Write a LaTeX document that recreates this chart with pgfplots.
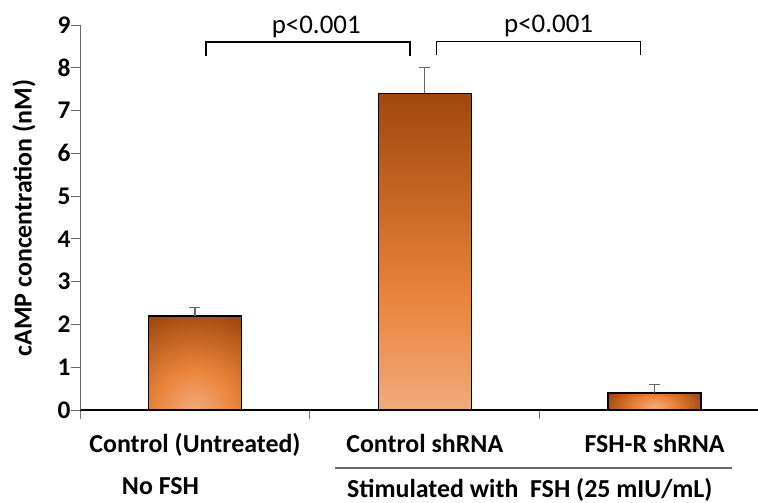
\documentclass[border=0pt]{standalone}
\usepackage{pgfplots}
\pgfplotsset{compat=1.18}
\usepackage{fontspec}
\setmainfont{Carlito}
\definecolor{cLight}{HTML}{F2AA7C}
\definecolor{cMid}{HTML}{EA833A}
\definecolor{cDark}{HTML}{A0480E}
% radial glow from bottom centre (path spans [-25bp,25bp]^2)
\pgfdeclarefunctionalshading{barglow}{\pgfpoint{-50bp}{-50bp}}{\pgfpoint{50bp}{50bp}}{}{
  25 add dup mul exch dup mul add sqrt 54 div
  dup 1 gt {pop 1} if
  dup 0.4 lt {
    0.4 div dup dup
    -0.031 mul 0.949 add 3 1 roll
    -0.153 mul 0.667 add exch
    -0.259 mul 0.486 add
  }{
    0.4 sub 0.6 div dup dup
    -0.291 mul 0.918 add 3 1 roll
    -0.232 mul 0.514 add exch
    -0.172 mul 0.227 add
  } ifelse
}
% flatter glow for the low bar
\pgfdeclarefunctionalshading{barflat}{\pgfpoint{-50bp}{-50bp}}{\pgfpoint{50bp}{50bp}}{}{
  15 add 0.35 mul dup mul exch dup mul add sqrt 27 div
  dup 1 gt {pop 1} if
  dup 0.4 lt {
    0.4 div dup dup
    -0.031 mul 0.949 add 3 1 roll
    -0.153 mul 0.667 add exch
    -0.259 mul 0.486 add
  }{
    0.4 sub 0.6 div dup dup
    -0.291 mul 0.918 add 3 1 roll
    -0.232 mul 0.514 add exch
    -0.172 mul 0.227 add
  } ifelse
}
\pgfdeclareverticalshading{bartall}{100bp}{color(0bp)=(cLight); color(25bp)=(cLight); color(43bp)=(cMid); color(75bp)=(cDark); color(100bp)=(cDark)}
\begin{document}
\begin{tikzpicture}
\useasboundingbox (-80bp,-93bp) rectangle (678bp,410bp);
\begin{axis}[
  scale only axis,
  width=678bp, height=385bp,
  xmin=-0.5, xmax=2.45,
  ymin=0, ymax=9,
  clip=false,
  axis x line*=bottom, axis y line*=left,
  axis line style={-},
  y axis line style={draw=black!60, line width=1pt},
  x axis line style={draw=black, line width=1.1pt},
  ytick={0,1,...,9},
  tick align=outside,
  major tick length=9bp,
  y tick style={draw=black!60, line width=1pt},
  xtick={-0.5,0.5,1.5},
  xticklabels={},
  x tick style={draw=black!55, line width=1pt},
  /pgf/number format/assume math mode=true,
  every tick label/.append style={font=\fontsize{25.5}{27}\selectfont\bfseries},
  yticklabel style={xshift=3bp},
  ybar, bar width=93bp, bar shift=0pt,
  error bars/error bar style={draw=black!60, line width=1.3pt},
  error bars/error mark options={rotate=90, mark size=5.5bp, draw=black!60, line width=1.3pt},
]
\addplot[draw=black, line width=1.5pt, shading=barglow,
  error bars/.cd, y dir=plus, y explicit]
  coordinates {(0,2.2) +- (0,0.2)};
\addplot[draw=black, line width=1.5pt, shading=bartall,
  error bars/.cd, y dir=plus, y explicit]
  coordinates {(1,7.4) +- (0,0.6)};
\addplot[draw=black, line width=1.5pt, shading=barflat,
  error bars/.cd, y dir=plus, y explicit]
  coordinates {(2,0.4) +- (0,0.2)};
% significance brackets
\draw[line width=1.4pt, black] (axis cs:0.048,8.27) -- (axis cs:0.048,8.6) -- (axis cs:0.935,8.6) -- (axis cs:0.935,8.27);
\draw[line width=1.4pt, black] (axis cs:1.052,8.31) -- (axis cs:1.052,8.62) -- (axis cs:1.939,8.62) -- (axis cs:1.939,8.31);
\node[anchor=base, font=\fontsize{27}{29}\selectfont, inner sep=0pt] at (axis cs:0.528,8.81) {p<0.001};
\node[anchor=base, font=\fontsize{27}{29}\selectfont, inner sep=0pt] at (axis cs:1.539,8.83) {p<0.001};
% y label
\node[rotate=90, font=\fontsize{26}{28}\selectfont\bfseries] at ([xshift=-56bp]axis cs:-0.5,4.49) {cAMP concentration (nM)};
% category labels
\node[anchor=base, inner sep=0pt, font=\fontsize{26}{28}\selectfont\bfseries] at ([yshift=-42bp]axis cs:0,0) {Control (Untreated)};
\node[anchor=base, inner sep=0pt, font=\fontsize{26}{28}\selectfont\bfseries] at ([yshift=-42bp]axis cs:1,0) {Control shRNA};
\node[anchor=base, inner sep=0pt, font=\fontsize{26}{28}\selectfont\bfseries] at ([yshift=-42bp]axis cs:2,0) {FSH-R shRNA};
\draw[black!60, line width=1.1pt] ([yshift=-58bp]axis cs:0.611,0) -- ([yshift=-58bp]axis cs:2.339,0);
\node[anchor=base, inner sep=0pt, font=\fontsize{26}{28}\selectfont\bfseries] at ([yshift=-84bp]axis cs:-0.15,0) {No FSH};
\node[anchor=base, inner sep=0pt, font=\fontsize{26}{28}\selectfont\bfseries] at ([yshift=-87bp]axis cs:1.457,0) {Stimulated with\ \ FSH (25 mIU/mL)};
\end{axis}
\end{tikzpicture}
\end{document}
